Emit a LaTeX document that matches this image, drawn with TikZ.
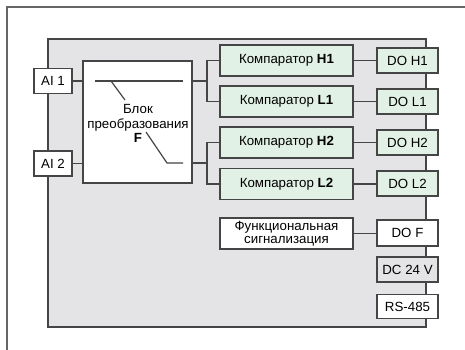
\documentclass[tikz,border=0pt]{standalone}
\usepackage{fontspec}
\setmainfont{Liberation Sans}
\begin{document}
\begin{tikzpicture}[x=1pt,y=-1pt,
  every node/.style={font=\fontsize{13.3}{14.5}\selectfont},
  box/.style={draw=linec,line width=1.2pt,rectangle,inner sep=0pt,align=center},
  wbox/.style={box,fill=white},
  gbox/.style={box,fill=greenc},
  ln/.style={draw=linec,line width=1.2pt}]
\definecolor{linec}{HTML}{454545}
\definecolor{framec}{HTML}{666666}
\definecolor{panelc}{HTML}{E4E4E6}
\definecolor{greenc}{HTML}{E2F1E6}
\useasboundingbox (0,0) rectangle (465,349);
\fill[white] (0,0) rectangle (465,349);
% outer frame
\draw[framec,line width=1.4pt] (7,352) -- (7,7) -- (468,7);
% panel
\draw[ln,fill=panelc] (48,39) rectangle (426,327);
% inputs
\node[wbox,minimum width=38pt,minimum height=25pt] (ai1) at (53,81) {AI 1};
\node[wbox,minimum width=38pt,minimum height=25pt] (ai2) at (53,163.5) {AI 2};
% block
\node[wbox,minimum width=109pt,minimum height=122pt] (blk) at (137.5,122) {};
\node[align=center] (blktxt) at (138,123.5) {Блок\\преобразования\\\textbf{F}};
\draw[ln] (95,81) -- (183,81);
\draw[ln] (111,81) -- (125,100);
\draw[ln] (146,132) -- (167,163) -- (183,163);
% comparators
\node[gbox,minimum width=133pt,minimum height=31pt] (c1) at (286.5,60.5) {Компаратор \textbf{H1}};
\node[gbox,minimum width=133pt,minimum height=31pt] (c2) at (286.5,101.5) {Компаратор \textbf{L1}};
\node[gbox,minimum width=133pt,minimum height=31pt] (c3) at (286.5,142.5) {Компаратор \textbf{H2}};
\node[gbox,minimum width=133pt,minimum height=31pt] (c4) at (286.5,184) {Компаратор \textbf{L2}};
\node[wbox,minimum width=133pt,minimum height=31pt,font=\fontsize{13.3}{12.5}\selectfont] (fs) at (286.5,233.5) {Функциональная\\сигнализация};
% outputs
\node[gbox,minimum width=61pt,minimum height=25pt] (d1) at (407.5,60.5) {DO H1};
\node[gbox,minimum width=61pt,minimum height=25pt] (d2) at (407.5,101.5) {DO L1};
\node[gbox,minimum width=61pt,minimum height=25pt] (d3) at (407.5,142.5) {DO H2};
\node[gbox,minimum width=61pt,minimum height=25pt] (d4) at (407.5,183.5) {DO L2};
\node[wbox,minimum width=61pt,minimum height=26pt] (df) at (407.5,233) {DO F};
\node[box,fill=panelc,minimum width=61pt,minimum height=25pt] (dc) at (407.5,269.5) {DC 24 V};
\node[wbox,minimum width=61pt,minimum height=24pt] (rs) at (407.5,306.5) {RS-485};
% connectors
\draw[ln] (ai1.east) -- (ai1.east -| blk.west);
\draw[ln] (ai2.east) -- (ai2.east -| blk.west);
\coordinate (b1) at (207,81);
\coordinate (b2) at (207,163);
\draw[ln] (blk.east |- b1) -- (b1);
\draw[ln] (blk.east |- b2) -- (b2);
\draw[ln] (c1.west) -- (c1.west -| b1) -- (c2.west -| b1) -- (c2.west);
\draw[ln] (c3.west) -- (c3.west -| b2) -- (c4.west -| b2) -- (c4.west);
\draw[ln] (c1.east) -- (d1.west);
\draw[ln] (c2.east) -- (d2.west);
\draw[ln] (c3.east) -- (d3.west);
\draw[ln] (c4.east) -- (d4.west |- c4.east);
\draw[ln] (fs.east) -- (df.west |- fs.east);
\end{tikzpicture}
\end{document}
